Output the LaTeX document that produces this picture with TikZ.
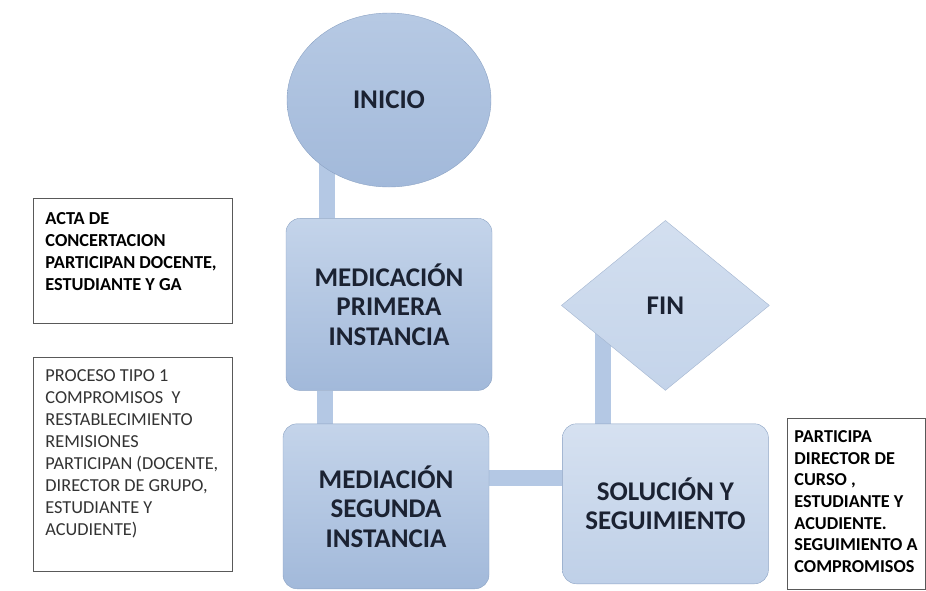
\documentclass[tikz,border=0pt]{standalone}
\usepackage{fontspec}
\setmainfont{Carlito}
\usepackage{tikz}
\usetikzlibrary{positioning,shapes.geometric,backgrounds}
\definecolor{boxTop}{HTML}{C4D4EA}
\definecolor{boxBot}{HTML}{A2B9DA}
\definecolor{boxLine}{HTML}{8CA3C4}
\definecolor{barBlue}{HTML}{B4C8E4}
\definecolor{ink}{HTML}{1B2232}
\tikzstyle{stepbox} = [rectangle,rounded corners=14pt,draw=boxLine,top color=boxTop,bottom color=boxBot,minimum width=206pt,minimum height=165pt,align=center,text=ink,font=\fontsize{27}{29.5}\selectfont\bfseries]
\tikzstyle{bar} = [draw=barBlue,line width=16pt]
\tikzset{note/.style={draw=black!65,line width=0.9pt,fill=white,anchor=north west,align=flush left,font=\fontsize{18.3}{22}\selectfont,execute at end node={\par\vspace*{#1}}}}

\begin{document}
\begin{tikzpicture}[x=1pt,y=-1pt]
\useasboundingbox (0,0) rectangle (926,590);

\node[ellipse,draw=boxLine,top color=boxTop!60!boxBot,bottom color=boxBot,minimum width=204pt,minimum height=174pt,text=ink,font=\fontsize{27}{30}\selectfont\bfseries] (ini) at (389,100) {INICIO};
\node[stepbox,minimum height=172pt] (med1) [below=31pt of ini] {MEDICACIÓN\\PRIMERA\\INSTANCIA};
\node[stepbox] (med2) [below=33pt of med1,xshift=-3pt] {MEDIACIÓN\\SEGUNDA\\INSTANCIA};
\node[stepbox,anchor=north west,minimum height=160pt,top color=boxTop!70!white,bottom color=boxTop!85!boxBot] (sol) at ([xshift=73pt]med2.north east) {SOLUCIÓN Y\\SEGUIMIENTO};
\node[diamond,draw=boxLine!80!white,top color=boxTop!75!white,bottom color=boxTop,minimum width=208pt,minimum height=170pt,text=ink,font=\fontsize{27}{30}\selectfont\bfseries] (fin) [above=33pt of sol] {FIN};

\node[note=19pt,text width=175pt,inner xsep=12pt,inner ysep=14pt,font=\fontsize{18.3}{22}\selectfont\bfseries] (acta) at (33,198)
  {ACTA DE\\CONCERTACION\\PARTICIPAN DOCENTE,\\ESTUDIANTE Y GA};
\node[note=22pt,text width=175pt,inner xsep=12pt,inner ysep=12pt,text=black!80] (proc) at (33,357)
  {PROCESO TIPO 1\\COMPROMISOS\ \ Y\\RESTABLECIMIENTO\\REMISIONES\\PARTICIPAN (DOCENTE,\\DIRECTOR DE GRUPO,\\ESTUDIANTE Y\\ACUDIENTE)};
\node[note=5pt,text width=124pt,inner xsep=7pt,inner ysep=12pt,font=\fontsize{18.2}{21.7}\selectfont\bfseries] (part) at (787,418)
  {PARTICIPA\\DIRECTOR DE\\CURSO ,\\ESTUDIANTE Y\\ACUDIENTE.\\SEGUIMIENTO A\\COMPROMISOS};

% connectors behind the shapes
\begin{scope}[on background layer]
\draw[bar] ([xshift=41pt]med1.north west) -- ([xshift=41pt]med1.north west |- ini.center);
\draw[bar] ([xshift=39pt]med1.south west) -- ([xshift=39pt]med1.south west |- med2.north);
\draw[bar] ([yshift=28pt]med2.east) -- ([yshift=28pt]med2.east -| sol.west);
\draw[bar] ([xshift=41pt]sol.north west) -- ([xshift=41pt]sol.north west |- fin.center);
\end{scope}

\end{tikzpicture}
\end{document}
